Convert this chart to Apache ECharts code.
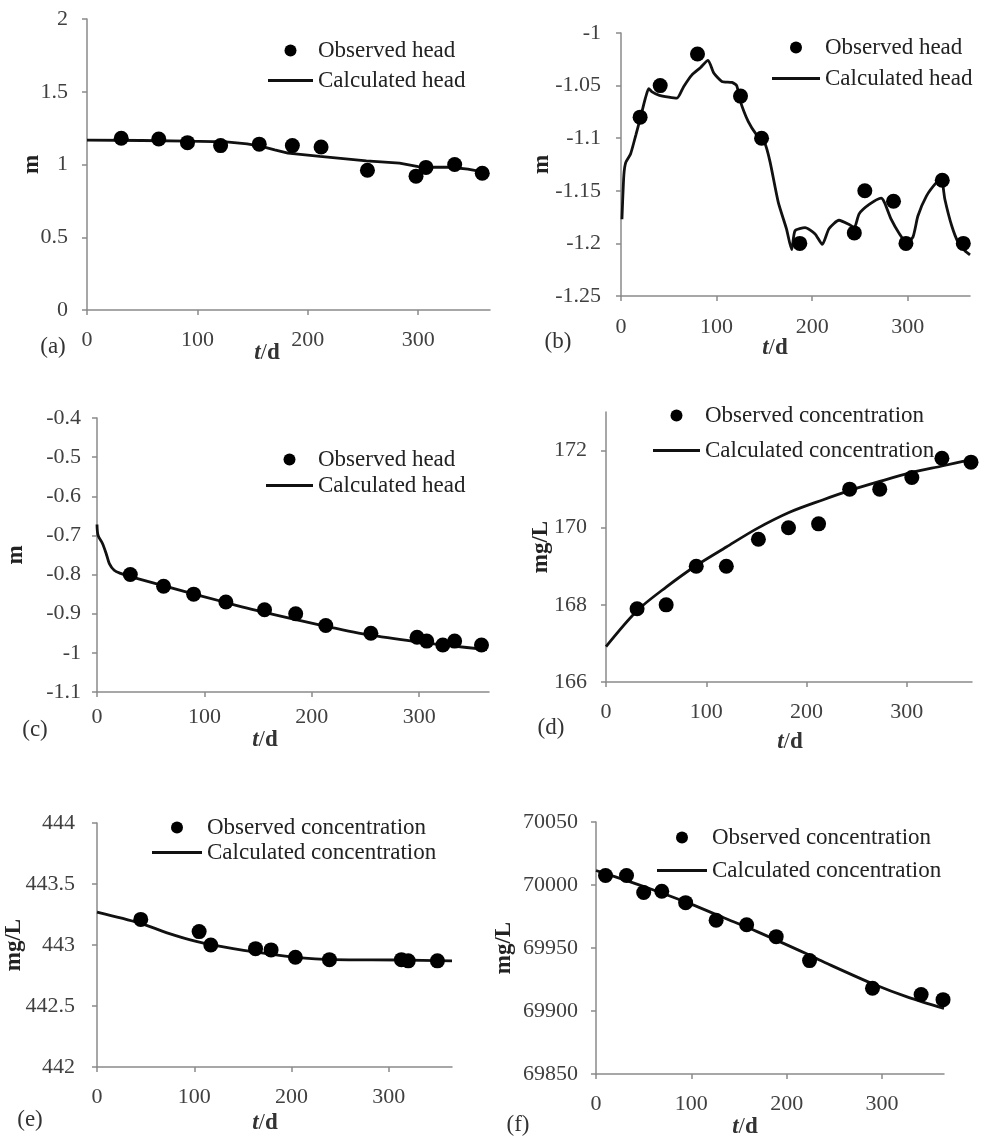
<!DOCTYPE html>
<html>
<head>
<meta charset="utf-8">
<script src="https://cdn.jsdelivr.net/npm/echarts@6/dist/echarts.min.js"></script>
<style>
  html, body { margin: 0; padding: 0; background: #fff; }
  #chart { width: 987px; height: 1137px; }
</style>
</head>
<body>
<div id="chart"></div>
<script>
// ---- data ----
const xTicks = [0, 100, 200, 300];

const yTicksA = [0, 0.5, 1, 1.5, 2];
const yTicksB = [-1.25, -1.2, -1.15, -1.1, -1.05, -1];
const yTicksC = [-1.1, -1, -0.9, -0.8, -0.7, -0.6, -0.5, -0.4];
const yTicksD = [166, 168, 170, 172];
const yTicksE = [442, 442.5, 443, 443.5, 444];
const yTicksF = [69850, 69900, 69950, 70000, 70050];

const headNames = ['Observed head', 'Calculated head'];
const concNames = ['Observed concentration', 'Calculated concentration'];

// (a)
const obsA = [[31, 1.18], [65, 1.175], [91, 1.15], [121, 1.13], [156, 1.14], [186, 1.13],
  [212, 1.12], [254, 0.96], [298, 0.92], [307, 0.98], [333, 1.0], [358, 0.94]];
const calcA = [[0, 1.168], [50, 1.165], [91, 1.16], [126, 1.156], [145, 1.142], [158, 1.125],
  [170, 1.1], [182, 1.078], [211, 1.056], [253, 1.025], [283, 1.01], [300, 0.985],
  [305, 0.981], [329, 0.981], [345, 0.968], [362, 0.944]];

// (b)
const obsB = [[20, -1.08], [41, -1.05], [80, -1.02], [125, -1.06], [147, -1.1], [187, -1.2],
  [244, -1.19], [255, -1.15], [285, -1.16], [298, -1.2], [336, -1.14], [358, -1.2]];
const calcB = [[1, -1.177], [3, -1.135], [5, -1.123], [10, -1.115], [15.5, -1.097], [20.5, -1.08],
  [25.5, -1.062], [29, -1.053], [32.5, -1.056], [39.5, -1.059], [50, -1.061], [58.5, -1.062],
  [65.5, -1.051], [74, -1.04], [83, -1.033], [91, -1.026], [97, -1.038], [105.5, -1.046],
  [116, -1.047], [121, -1.05], [124.5, -1.064], [133, -1.084], [142, -1.097], [150.5, -1.105],
  [156, -1.123], [164.5, -1.161], [173, -1.186], [178.5, -1.206], [182, -1.188], [192.5, -1.185],
  [203, -1.191], [210.5, -1.201], [217.5, -1.186], [228, -1.178], [238.6, -1.182], [244, -1.185],
  [249, -1.172], [259.6, -1.163], [272, -1.157], [275.5, -1.161], [282.5, -1.177], [291.3, -1.191],
  [298.3, -1.199], [305.3, -1.194], [310.5, -1.174], [319.4, -1.155], [330, -1.142], [335, -1.139],
  [338.7, -1.158], [345.8, -1.183], [352.6, -1.199], [359.7, -1.207], [365, -1.211]];

// (c)
const obsC = [[31, -0.8], [62, -0.83], [90, -0.85], [120, -0.87], [156, -0.89], [185, -0.9],
  [213, -0.93], [255, -0.95], [298, -0.96], [307, -0.97], [322, -0.98], [333, -0.97], [358, -0.98]];
const calcC = [[0, -0.672], [1, -0.7], [5, -0.72], [8.5, -0.746], [11.5, -0.772], [16, -0.789],
  [22, -0.797], [31, -0.805], [65, -0.831], [121, -0.872], [158, -0.898], [208, -0.929],
  [251, -0.953], [298, -0.972], [330, -0.982], [363, -0.992]];

// (d)
const obsD = [[31, 167.9], [60, 168.0], [90, 169.0], [120, 169.0], [152, 169.7], [182, 170.0],
  [212, 170.1], [243, 171.0], [273, 171.0], [305, 171.3], [335, 171.8], [364, 171.7]];
const calcD = [[0, 166.92], [31, 167.85], [60, 168.46], [90, 169.02], [120, 169.5], [150, 169.97],
  [183, 170.4], [216, 170.72], [245, 170.98], [273, 171.2], [303, 171.42], [335, 171.6], [365, 171.77]];

// (e)
const obsE = [[45, 443.21], [105, 443.11], [117, 443.0], [163, 442.97], [179, 442.96], [204, 442.9],
  [239, 442.88], [313, 442.88], [320, 442.87], [350, 442.87]];
const calcE = [[0, 443.27], [44, 443.18], [72, 443.1], [102, 443.03], [140, 442.97], [174, 442.93],
  [202, 442.9], [243, 442.88], [311, 442.877], [365, 442.87]];

// (f)
const obsF = [[10, 70007.5], [32, 70007.5], [50, 69994], [69, 69995], [94, 69986], [126, 69972],
  [158, 69968.5], [189, 69959], [224, 69940], [290, 69918], [341, 69913], [364, 69909]];
const calcF = [[0, 70011.5], [36, 70002.5], [64, 69995], [99, 69985], [134, 69974], [169, 69963],
  [222, 69945], [240, 69938.5], [292, 69921], [327, 69911], [365, 69902]];

// ---- layout ----
const font = 'Liberation Serif';
const grey = '#8a8a8a';
const labelColor = '#404040';
// thin bar used as the legend mark of the calculated curve
const lineIcon = 'path://M0,0H16V1H0Z';

const panels = [
  { grid: [87, 19, 403, 291], yMin: 0, yMax: 2, yTicks: yTicksA, yName: 'm', nameGap: 43, yMargin: 19, xMargin: 19,
    obs: obsA, calc: calcA, names: headNames, smooth: false,
    legend: [268, 39, 45, 7], tag: ['(a)', 53, 347], td: [267, 353] },
  { grid: [621, 33, 349, 263], yMin: -1.25, yMax: -1, yTicks: yTicksB, yName: 'm', nameGap: 67, yMargin: 20, xMargin: 20,
    obs: obsB, calc: calcB, names: headNames, smooth: 0.2,
    legend: [772, 36, 48, 8], tag: ['(b)', 558, 342], td: [775, 348] },
  { grid: [97, 418, 392, 274], yMin: -1.1, yMax: -0.4, yTicks: yTicksC, yName: 'm', nameGap: 69, yMargin: 16, xMargin: 14,
    obs: obsC, calc: calcC, names: headNames, smooth: 0.3,
    legend: [266, 448, 47, 3], tag: ['(c)', 35, 730], td: [265, 740] },
  { grid: [606, 412, 366, 270], yMin: 166, yMax: 173, yTicks: yTicksD, yName: 'mg/L', nameGap: 53, yMargin: 19, xMargin: 19,
    obs: obsD, calc: calcD, names: concNames, smooth: 0.3,
    legend: [653, 404, 47, 12], tag: ['(d)', 551, 728], td: [790, 742] },
  { grid: [97, 823, 355, 244], yMin: 442, yMax: 444, yTicks: yTicksE, yName: 'mg/L', nameGap: 71, yMargin: 22, xMargin: 19,
    obs: obsE, calc: calcE, names: concNames, smooth: 0.3,
    legend: [152, 816, 50, 2], tag: ['(e)', 30, 1120], td: [265, 1123] },
  { grid: [596, 822, 348, 252], yMin: 69850, yMax: 70050, yTicks: yTicksF, yName: 'mg/L', nameGap: 80, yMargin: 18, xMargin: 19,
    obs: obsF, calc: calcF, names: concNames, smooth: 0.3,
    legend: [657, 826, 50, 10], tag: ['(f)', 518, 1125], td: [745, 1127] }
];

const plain = v => String(v);

const option = {
  backgroundColor: '#fff',
  animation: false,
  grid: [], xAxis: [], yAxis: [], legend: [], series: [], graphic: []
};

panels.forEach((p, i) => {
  option.grid.push({ left: p.grid[0], top: p.grid[1], width: p.grid[2], height: p.grid[3] });

  option.xAxis.push({
    gridIndex: i, type: 'value', min: 0, max: 365, interval: 100,
    axisLine: { show: true, onZero: false, lineStyle: { color: grey, width: 1.5 } },
    axisTick: { show: true, length: 5, customValues: xTicks, lineStyle: { color: grey, width: 1.5 } },
    axisLabel: { customValues: xTicks, formatter: plain, margin: p.xMargin,
      fontFamily: font, fontSize: 22, color: labelColor },
    splitLine: { show: false }
  });

  option.yAxis.push({
    gridIndex: i, type: 'value', min: p.yMin, max: p.yMax,
    name: p.yName, nameLocation: 'middle', nameRotate: 90, nameGap: p.nameGap,
    nameMoveOverlap: false,
    nameTextStyle: { fontFamily: font, fontSize: 23, fontWeight: 'bold', color: '#222' },
    axisLine: { show: true, lineStyle: { color: grey, width: 1.5 } },
    axisTick: { show: true, length: 5, customValues: p.yTicks, lineStyle: { color: grey, width: 1.5 } },
    axisLabel: { customValues: p.yTicks, formatter: plain, margin: p.yMargin,
      fontFamily: font, fontSize: 22, color: labelColor },
    splitLine: { show: false }
  });

  option.legend.push({
    left: p.legend[0], top: p.legend[1], orient: 'vertical', padding: 0,
    itemWidth: p.legend[2], itemHeight: 12, itemGap: p.legend[3],
    data: [
      { name: p.names[0], icon: 'circle' },
      { name: p.names[1], icon: lineIcon, itemStyle: { color: '#111' } }
    ],
    textStyle: { fontFamily: font, fontSize: 23, color: '#222' }
  });

  option.series.push({
    name: p.names[1], type: 'line', xAxisIndex: i, yAxisIndex: i,
    data: p.calc, symbol: 'none', smooth: p.smooth,
    lineStyle: { color: '#111', width: 2.8 }, itemStyle: { color: '#111' }, z: 2
  });
  option.series.push({
    name: p.names[0], type: 'scatter', xAxisIndex: i, yAxisIndex: i,
    data: p.obs, symbol: 'circle', symbolSize: 15,
    itemStyle: { color: '#000', opacity: 1 }, z: 3
  });

  option.graphic.push({
    type: 'text', x: p.tag[1], y: p.tag[2],
    style: { text: p.tag[0], fontFamily: font, fontSize: 23, fill: '#333',
      align: 'center', verticalAlign: 'middle', textAlign: 'center', textVerticalAlign: 'middle' }
  });
  option.graphic.push({
    type: 'text', x: p.td[0], y: p.td[1],
    style: {
      text: '{i|t}/{b|d}', fontFamily: font, fontSize: 23, fill: '#333',
      align: 'center', verticalAlign: 'middle', textAlign: 'center', textVerticalAlign: 'middle',
      rich: {
        i: { fontFamily: font, fontSize: 23, fontStyle: 'italic', fontWeight: 'bold', fill: '#333' },
        b: { fontFamily: font, fontSize: 23, fontWeight: 'bold', fill: '#333' }
      }
    }
  });
});

const chart = echarts.init(document.getElementById('chart'));
chart.setOption(option);
</script>
</body>
</html>
